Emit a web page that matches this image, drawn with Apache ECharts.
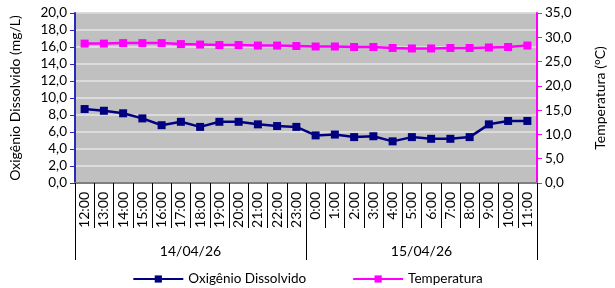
<!DOCTYPE html>
<html>
<head>
<meta charset="utf-8">
<script src="https://cdn.jsdelivr.net/npm/echarts@6/dist/echarts.min.js"></script>
<style>
  html, body { margin: 0; padding: 0; background: #fff; }
  #chart { width: 615px; height: 288px; }
</style>
</head>
<body>
<div id="chart"></div>
<script>
const hours = [
  '12:00', '13:00', '14:00', '15:00', '16:00', '17:00', '18:00', '19:00', '20:00', '21:00', '22:00', '23:00',
  '0:00', '1:00', '2:00', '3:00', '4:00', '5:00', '6:00', '7:00', '8:00', '9:00', '10:00', '11:00',
];
const days = ['14/04/26', '15/04/26'];
const oxigenio = [
  8.7, 8.5, 8.2, 7.6, 6.8, 7.2, 6.6, 7.2, 7.2, 6.9, 6.7, 6.6,
  5.6, 5.7, 5.4, 5.5, 4.9, 5.4, 5.2, 5.2, 5.4, 6.9, 7.3, 7.3,
];
const temperatura = [
  28.7, 28.7, 28.8, 28.8, 28.8, 28.6, 28.5, 28.4, 28.4, 28.3, 28.3, 28.2,
  28.1, 28.1, 28.0, 28.0, 27.8, 27.7, 27.7, 27.8, 27.8, 27.9, 28.0, 28.3,
];

const font = 'Lato, "Open Sans", sans-serif';
const fmt = (v) => v.toFixed(1).replace('.', ',');

const chart = echarts.init(document.getElementById('chart'));
chart.setOption({
  animation: false,
  textStyle: { fontFamily: font, color: '#000' },
  grid: {
    left: 72,
    right: 68,
    top: 13,
    bottom: 105,
    show: true,
    backgroundColor: '#c0c0c0',
    borderColor: '#808080',
    borderWidth: 1,
  },
  legend: {
    bottom: 2,
    padding: 0,
    left: 'center',
    itemWidth: 50,
    itemHeight: 9,
    itemGap: 46,
    textStyle: { fontFamily: font, fontSize: 13.5, color: '#000' },
    data: ['Oxigênio Dissolvido', 'Temperatura'],
  },
  xAxis: [
    {
      type: 'category',
      data: hours,
      boundaryGap: true,
      axisLine: { show: true, lineStyle: { color: '#808080', width: 2 } },
      axisTick: { show: true, interval: 0, length: 45, lineStyle: { color: '#000', width: 1 } },
      axisLabel: { rotate: 90, margin: 9, fontSize: 14, color: '#000', fontFamily: font, interval: 0 },
    },
    {
      type: 'category',
      data: days,
      position: 'bottom',
      boundaryGap: true,
      axisLine: { show: false },
      axisTick: { show: true, interval: 0, length: 77, lineStyle: { color: '#000', width: 1 } },
      axisLabel: { margin: 61, fontSize: 14, color: '#000', fontFamily: font },
    },
  ],
  yAxis: [
    {
      type: 'value',
      min: 0,
      max: 20,
      interval: 2,
      name: 'Oxigênio Dissolvido (mg/L)',
      nameLocation: 'middle',
      nameGap: 53,
      nameTextStyle: { fontSize: 14, color: '#000', fontFamily: font },
      axisLine: { show: true, lineStyle: { color: '#2b2bb8', width: 2 } },
      axisTick: { show: true, length: 5, lineStyle: { color: '#2b2bb8' } },
      axisLabel: { formatter: fmt, fontSize: 13.5, color: '#000', margin: 8 },
      splitLine: { lineStyle: { color: '#e6e6e6', width: 1.5 } },
    },
    {
      type: 'value',
      min: 0,
      max: 35,
      interval: 5,
      name: 'Temperatura (°C)',
      nameLocation: 'middle',
      nameGap: 56,
      nameTextStyle: { fontSize: 14, color: '#000', fontFamily: font },
      axisLine: { show: true, lineStyle: { color: '#ff00ff', width: 2 } },
      axisTick: { show: true, length: 5, lineStyle: { color: '#ff00ff' } },
      axisLabel: { formatter: fmt, fontSize: 13.5, color: '#000', margin: 8 },
      splitLine: { show: false },
    },
  ],
  series: [
    {
      name: 'Oxigênio Dissolvido',
      type: 'line',
      data: oxigenio,
      yAxisIndex: 0,
      symbol: 'rect',
      symbolSize: 8,
      color: '#000080',
      lineStyle: { color: '#000080', width: 2.5 },
      itemStyle: { color: '#000080' },
    },
    {
      name: 'Temperatura',
      type: 'line',
      data: temperatura,
      yAxisIndex: 1,
      symbol: 'rect',
      symbolSize: 8,
      color: '#ff00ff',
      lineStyle: { color: '#ff00ff', width: 2.5 },
      itemStyle: { color: '#ff00ff' },
    },
  ],
});
</script>
</body>
</html>
